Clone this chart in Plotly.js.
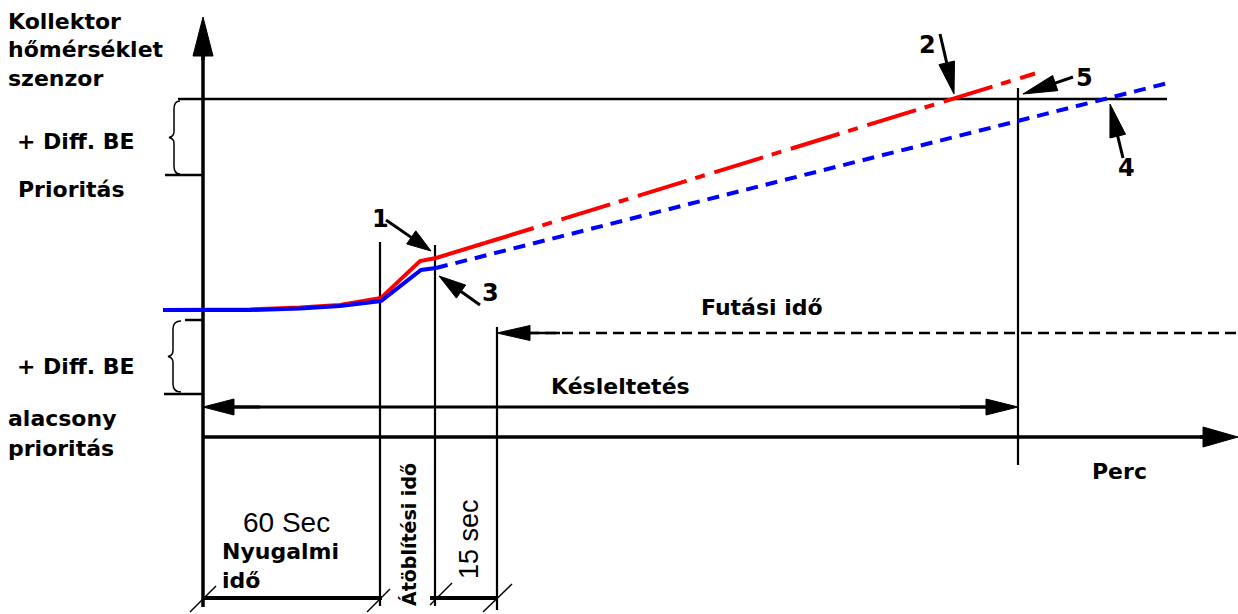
<!DOCTYPE html>
<html>
<head>
<meta charset="utf-8">
<script src="https://cdn.plot.ly/plotly-3.0.1.min.js"></script>
<style>html,body{margin:0;padding:0;background:#fff;}#chart{width:1238px;height:614px;}</style>
</head>
<body>
<div id="chart"></div>
<script>
// ---- Curves (diagram units = pixels of the drawing) ----
const redX      = [163, 250, 300, 340, 381, 420, 436, 485];
const redY      = [310, 309.5, 307.5, 305, 298, 261, 258, 243];
const redDashX  = [485, 1035];
const redDashY  = [243, 73.5];
const blueX     = [163, 250, 300, 340, 381, 421, 436];
const blueY     = [310, 310, 308.5, 306, 301, 270, 268];
const blueDashX = [436, 1168];
const blueDashY = [268, 83];

// ---- Time markers on the axis ----
const markerX = [203, 380, 435, 497, 1018];
const axisY = 437;
const levelHigh = 99, levelHighLow = 175, levelLowTop = 320, levelLow = 394;

// ---- Labels ----
const leftLabels = ["Kollektor", "hőmérséklet", "szenzor", "+ Diff. BE", "Prioritás", "+ Diff. BE", "alacsony", "prioritás"];
const numberLabels = ["1", "2", "3", "4", "5"];
const timeLabels = ["Futási idő", "Késleltetés", "Perc", "60 Sec", "Nyugalmi", "idő", "Átöblítési idő", "15 sec"];

const BOLD = "DejaVu Sans";
const REG = "Liberation Sans";

function tri(tx, ty, fx, fy, len, hw) {
  const dx = tx - fx, dy = ty - fy, L = Math.hypot(dx, dy);
  const ux = dx / L, uy = dy / L;
  const bx = tx - ux * len, by = ty - uy * len;
  const px = -uy, py = ux;
  return {base: [bx, by], path: `M${tx},${ty} L${bx + px * hw},${by + py * hw} L${bx - px * hw},${by - py * hw} Z`};
}

const shapes = [];
function line(x0, y0, x1, y1, w, dash) {
  shapes.push({type: 'line', xref: 'x', yref: 'y', x0, y0, x1, y1, layer: 'below',
    line: {color: '#000', width: w, dash: dash || 'solid'}});
}
function arrow(tx, ty, fx, fy, len, hw, w) {
  const t = tri(tx, ty, fx, fy, len, hw);
  if (Math.hypot(t.base[0] - fx, t.base[1] - fy) > 1) {
    shapes.push({type: 'line', xref: 'x', yref: 'y', x0: fx, y0: fy, x1: t.base[0], y1: t.base[1],
      layer: 'above', line: {color: '#000', width: w}});
  }
  shapes.push({type: 'path', xref: 'x', yref: 'y', path: t.path, fillcolor: '#000',
    line: {color: '#000', width: 1}, layer: 'above'});
}
function brace(xr, y0, y1, xc) {
  const m = (y0 + y1) / 2, xi = xc + 5;
  const p = `M${xr},${y0} Q${xi},${y0} ${xi},${y0 + 8} L${xi},${m - 6} Q${xi},${m - 1} ${xc},${m} ` +
            `Q${xi},${m + 1} ${xi},${m + 6} L${xi},${y1 - 8} Q${xi},${y1} ${xr},${y1}`;
  shapes.push({type: 'path', xref: 'x', yref: 'y', path: p, line: {color: '#000', width: 1.5}, layer: 'below'});
}

// axes
line(markerX[0], 50, markerX[0], 607, 3.5);
arrow(markerX[0], 17, markerX[0], 60, 39, 10, 3.5);
line(markerX[0], axisY, 1205, axisY, 3.5);
arrow(1238, axisY, 1200, axisY, 35, 10, 3.5);
// level lines
line(178, levelHigh, 1167, levelHigh, 2.5);
line(165, levelHighLow, markerX[0], levelHighLow, 2.5);
line(185, levelLowTop, markerX[0], levelLowTop, 2.5);
line(164, levelLow, markerX[0], levelLow, 2.5);
brace(180, 101, 174, 169);
brace(181, 321, 392, 168);
// vertical markers
line(markerX[1], 242, markerX[1], 606, 2.2);
line(markerX[2], 245, markerX[2], 606, 2.2);
line(markerX[3], 327, markerX[3], 610, 2.2);
line(markerX[4], 88, markerX[4], 465, 2.2);
// Késleltetés arrow
line(230, 407, 990, 407, 3);
arrow(markerX[0], 407, 260, 407, 31, 8, 3);
arrow(markerX[4], 407, 960, 407, 32, 8, 3);
// Futási idő dashed arrow
line(528, 333, 1238, 333, 2.5, '11px,6px');
arrow(markerX[3], 333, 560, 333, 33, 7.5, 2.5);
// bottom dimension line
line(markerX[0], 598, 382, 598, 4);
line(430, 598, markerX[3], 598, 4);
// slash ticks
[[190, 612, 216, 586], [367, 612, 390, 589], [430, 605, 452, 583], [483, 612, 512, 584]].forEach(s => line(s[0], s[1], s[2], s[3], 1.5));
// numbered arrows
arrow(431, 251, 386, 220, 24, 8, 3);
arrow(954, 94, 940, 34, 32, 8, 3);
arrow(439, 276, 480, 305, 27, 8, 3);
arrow(1110, 104, 1123, 158, 33, 8, 3);
arrow(1023, 94, 1073, 77, 34, 8, 3);

const annotations = [];
function label(text, x, y, opts) {
  annotations.push(Object.assign({text, x, y, xref: 'x', yref: 'y', showarrow: false,
    xanchor: 'left', yanchor: 'middle', borderpad: 0,
    font: {family: BOLD, size: 22, color: '#000', weight: 'bold'}}, opts || {}));
}
label(leftLabels[0], 7, 21);
label(leftLabels[1], 7, 49);
label(leftLabels[2], 7, 78);
label(leftLabels[3], 16, 141);
label(leftLabels[4], 17, 189);
label(leftLabels[5], 16, 366);
label(leftLabels[6], 7, 418);
label(leftLabels[7], 7, 448);
label(timeLabels[0], 700, 307);
label(timeLabels[1], 550, 386);
label(timeLabels[2], 1091, 471);
label(timeLabels[3], 242, 522, {font: {family: REG, size: 28, color: '#000'}});
label(timeLabels[4], 221, 551);
label(timeLabels[5], 221, 580);
label(timeLabels[6], 409, 535, {xanchor: 'center', textangle: -90, font: {family: BOLD, size: 19, color: '#000', weight: 'bold'}});
label(timeLabels[7], 469, 539, {xanchor: 'center', textangle: -90, font: {family: REG, size: 27, color: '#000'}});
const numPos = [[380, 219], [927, 45], [490, 293], [1126, 168], [1084, 78]];
numberLabels.forEach((n, i) => label(n, numPos[i][0], numPos[i][1], {xanchor: 'center', font: {family: BOLD, size: 24, color: '#000', weight: 'bold'}}));

const traces = [
  {x: redX, y: redY, mode: 'lines', line: {color: '#ff0000', width: 4}, hoverinfo: 'skip'},
  {x: redDashX, y: redDashY, mode: 'lines', line: {color: '#ff0000', width: 4, dash: '51px,9px,10px,10px'}, hoverinfo: 'skip'},
  {x: blueDashX, y: blueDashY, mode: 'lines', line: {color: '#0000ff', width: 4, dash: '12px,8px'}, hoverinfo: 'skip'},
  {x: blueX, y: blueY, mode: 'lines', line: {color: '#0000ff', width: 4}, hoverinfo: 'skip'}
];

const layout = {
  width: 1238, height: 614,
  margin: {l: 0, r: 0, t: 0, b: 0},
  paper_bgcolor: '#fff', plot_bgcolor: '#fff',
  showlegend: false,
  xaxis: {range: [0, 1238], visible: false, fixedrange: true},
  yaxis: {range: [614, 0], visible: false, fixedrange: true},
  shapes, annotations
};
Plotly.newPlot('chart', traces, layout, {staticPlot: true, displayModeBar: false});
</script>
</body>
</html>
